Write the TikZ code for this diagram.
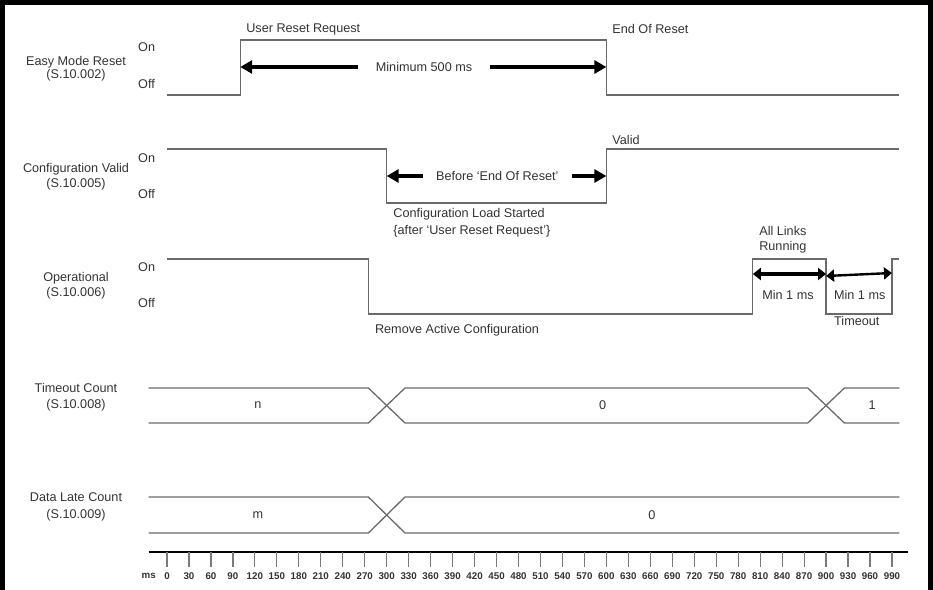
\documentclass[tikz,border=0pt]{standalone}
\usepackage{fontspec}
\setmainfont{Liberation Sans}
\usetikzlibrary{arrows.meta}

\begin{document}
\begin{tikzpicture}[x=1bp, y=-1bp,
    txt/.style={font=\fontsize{12.7}{15}\selectfont, text=textColour, inner sep=0pt},
    level/.style={txt, anchor=west},
    wave/.style={draw=waveColour, line width=1.3bp},
    span/.style={line width=4bp, -{Triangle[length=12bp,width=13bp]}},
    twoway/.style={line width=#1, {Triangle[length=8bp,width=12bp]}-{Triangle[length=8bp,width=12bp]}},
    tick/.style={font=\fontsize{9.8}{11}\selectfont\bfseries, text=textColour, inner sep=0pt}]
    \definecolor{textColour}{HTML}{333333}
    \definecolor{waveColour}{HTML}{6A6A6A}
    \definecolor{tickColour}{HTML}{7A7A7A}

    \useasboundingbox (0,0) rectangle (933,590);
    \draw[line width=5bp] (2.5,590) -- (2.5,2.5) -- (930.5,2.5) -- (930.5,590);

    % signal names
    \node[txt] (resetName) at (76,62) {Easy Mode Reset};
    \node[txt] (resetReg) at (76,75) {(S.10.002)};
    \node[txt] (validName) at (76,169) {Configuration Valid};
    \node[txt] (validReg) at (76,184) {(S.10.005)};
    \node[txt] (operName) at (76,278) {Operational};
    \node[txt] (operReg) at (76,293) {(S.10.006)};
    \node[txt] (timeoutName) at (76,388) {Timeout Count};
    \node[txt] (timeoutReg) at (76,405) {(S.10.008)};
    \node[txt] (lateName) at (76,497) {Data Late Count};
    \node[txt] (lateReg) at (76,515) {(S.10.009)};

    \foreach \yOn/\yOff in {47/84, 158/194, 267/303} {
        \node[level] (on\yOn) at (138,\yOn) {On};
        \node[level] (off\yOff) at (138,\yOff) {Off};
    }

    % everything below in ms along x
    \begin{scope}[xshift=167bp, x=0.7323bp]
        % Easy Mode Reset
        \draw[wave] (0,95) -- (100,95) -- (100,40) -- (600,40) -- (600,95) -- (1000,95);
        \node[level] (request) at (108,29) {User Reset Request};
        \node[level] (endReset) at (608,29) {End Of Reset};
        \node[txt] (minimum) at (351,67) {Minimum 500 ms};
        \coordinate (resetUp) at (100,67);
        \coordinate (resetDown) at (600,67);
        \draw[span] ([xshift=-18bp]minimum.west) -- (resetUp);
        \draw[span] ([xshift=18bp]minimum.east) -- (resetDown);

        % Configuration Valid
        \draw[wave] (0,149) -- (300,149) -- (300,203) -- (600,203) -- (600,149) -- (1000,149);
        \node[level] (valid) at (608,140) {Valid};
        \node[txt] (before) at (451,176) {Before ‘End Of Reset’};
        \coordinate (validDown) at (300,176);
        \coordinate (validUp) at (600,176);
        \draw[span] ([xshift=-13bp]before.west) -- (validDown);
        \draw[span] ([xshift=13bp]before.east) -- (validUp);
        \node[level, align=left] (loadStart) at (309,222.5) {Configuration Load Started\\[2bp]\{after ‘User Reset Request’\}};

        % Operational
        \draw[wave] (0,259) -- (275,259) -- (275,314) -- (800,314) -- (800,259) -- (900,259)
            -- (900,314) -- (990,314) -- (990,259) -- (1000,259);
        \node[txt] (remove) at (396,330) {Remove Active Configuration};
        \node[txt, align=center] (links) at (841,240) {All Links\\Running};
        \coordinate (operUp) at (800,274);
        \coordinate (operDown) at (900,274);
        \coordinate (operDownB) at (900,276);
        \coordinate (operBack) at (990,273);
        \draw[twoway=4bp] (operUp) -- (operDown);
        \draw[twoway=2.4bp] (operDownB) -- (operBack);
        \node[txt] (minA) at (848,295) {Min 1 ms};
        \node[txt] (minB) at (946,295) {Min 1 ms};
        \node[txt] (timeout) at (942,321) {Timeout};

        % Timeout Count
        \draw[wave] (-25,388) -- (275,388) -- (325,423) -- (875,423) -- (925,388) -- (1000,388);
        \draw[wave] (-25,423) -- (275,423) -- (325,388) -- (875,388) -- (925,423) -- (1000,423);
        \node[txt] (countN) at (124,405) {n};
        \node[txt] (countZero) at (595,405) {0};
        \node[txt] (countOne) at (963,405) {1};

        % Data Late Count
        \draw[wave] (-25,497) -- (275,497) -- (325,533) -- (1000,533);
        \draw[wave] (-25,533) -- (275,533) -- (325,497) -- (1000,497);
        \node[txt] (lateM) at (124,515) {m};
        \node[txt] (lateZero) at (662,515) {0};

        % time axis
        \draw[line width=1.2bp] (-25,552) -- (1012,552);
        \node[tick] (msLabel) at (-25,576) {ms};
        \foreach \t in {0,30,...,990} {
            \draw[tickColour, line width=1.2bp] (\t,552) -- (\t,567);
            \node[tick] (t\t) at (\t,576) {\t};
        }
    \end{scope}

\end{tikzpicture}
\end{document}
